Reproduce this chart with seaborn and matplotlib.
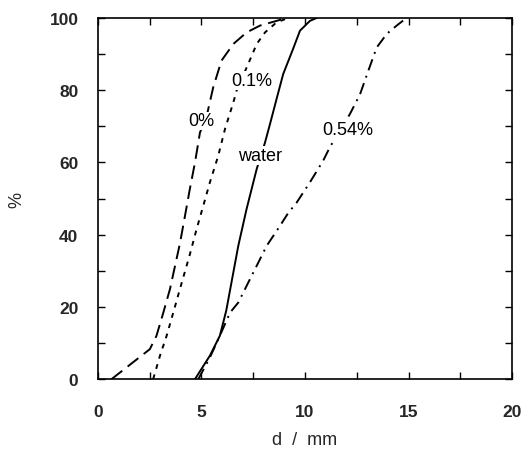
import matplotlib
matplotlib.use("Agg")
import matplotlib.pyplot as plt
import seaborn as sns
import pandas as pd
from matplotlib.ticker import MultipleLocator

sns.set_theme(style="ticks")
plt.rcParams['font.family'] = ['Liberation Sans', 'DejaVu Sans']

# Data (d in mm, cumulative %)
d_0 = [0.66, 2.51, 2.83, 3.16, 3.48, 3.96, 4.2, 4.44, 4.69, 4.93, 5.24, 5.57,
       5.97, 6.54, 7.18, 7.83, 8.63, 9.1]
p_0 = [0, 8.3, 12, 18.4, 24.9, 37.5, 45, 52.6, 60, 68.3, 72.5, 80.8,
       88.2, 92.8, 96, 97.9, 99.2, 100]

d_01 = [2.67, 3.0, 3.32, 3.64, 3.96, 4.44, 4.77, 5.09, 5.41, 5.81, 6.14, 6.54,
        6.7, 7.26, 7.67, 8.07, 8.63, 9.2]
p_01 = [0, 6.5, 12, 18.4, 24.9, 34.5, 41.6, 48, 54.5, 61.8, 69.3, 76.6,
        79.9, 87.3, 92.8, 96, 98.8, 100]

d_w = [4.69, 5.41, 5.89, 6.2, 6.54, 6.78, 7.18, 7.67, 8.07, 8.31, 8.63, 8.95,
       9.43, 9.76, 10.24, 10.56]
p_w = [0, 6.5, 12, 19, 29.5, 36.9, 47.1, 58.2, 65.5, 70.6, 77.6, 84.5,
       91.5, 96.5, 99.2, 100]

d_54 = [4.85, 5.41, 5.89, 6.38, 6.78, 7.18, 7.67, 8.15, 8.8, 9.19, 9.6, 10.24,
        10.88, 11.2, 12.17, 12.66, 13.06, 13.46, 13.95, 14.43, 14.9]
p_54 = [0, 6, 12, 18.4, 21.2, 25.8, 31.4, 36.9, 42.5, 46, 48.9, 54.5,
        60.5, 64.2, 73.4, 78.9, 85.4, 91.8, 95.6, 97.9, 100]

series = ["0%", "0.1%", "water", "0.54%"]
xs = [d_0, d_01, d_w, d_54]
ys = [p_0, p_01, p_w, p_54]

rows = []
for name, xv, yv in zip(series, xs, ys):
    for a, b in zip(xv, yv):
        rows.append({"series": name, "d": a, "p": b})
df = pd.DataFrame(rows)

label_x = [5.0, 7.42, 7.83, 12.08]
label_y = [71.5, 82.7, 61.9, 69.0]

fig = plt.figure(figsize=(5.29, 4.52), dpi=100)
ax = fig.add_axes([0.185, 0.159, 0.783, 0.799])

dashes = {"0%": (7, 3.5), "0.1%": (2.5, 3), "water": "", "0.54%": (6, 3, 1, 3)}
sns.lineplot(data=df, x="d", y="p", hue="series", style="series",
             dashes=dashes, palette=["black"] * 4, sort=False,
             estimator=None, units="series", legend=False, linewidth=1.4, ax=ax)

for name, tx, ty in zip(series, label_x, label_y):
    ax.text(tx, ty, name, fontsize=13, ha="center", va="center", color="black",
            bbox=dict(boxstyle="square,pad=0.05", fc="white", ec="none"), zorder=5)

ax.set_xlim(0, 20)
ax.set_ylim(0, 100)
ax.xaxis.set_major_locator(MultipleLocator(5))
ax.xaxis.set_minor_locator(MultipleLocator(2.5))
ax.yaxis.set_major_locator(MultipleLocator(20))
ax.yaxis.set_minor_locator(MultipleLocator(10))
ax.tick_params(which="both", direction="in", top=True, right=True, length=5,
               width=1, color="black", labelsize=12.5)
ax.tick_params(axis="x", pad=18)
ax.tick_params(axis="y", pad=14)
for lab in ax.get_xticklabels() + ax.get_yticklabels():
    lab.set_fontweight("bold")
for s in ax.spines.values():
    s.set_linewidth(1.2)
    s.set_color("black")

ax.set_xlabel("d  /  mm", fontsize=13)
ax.set_ylabel("%", fontsize=13)
ax.xaxis.set_label_coords(0.5, -0.166)
ax.yaxis.set_label_coords(-0.196, 0.5)
ax.xaxis.label.set_va("center")
ax.yaxis.label.set_va("center")

fig.savefig("out.png", dpi=100)
